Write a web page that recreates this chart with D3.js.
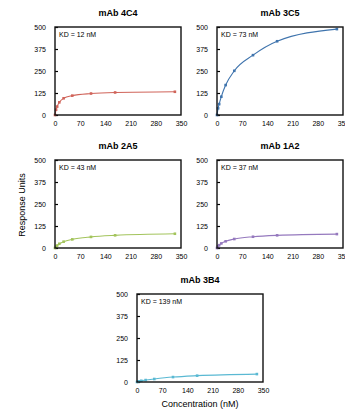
<!DOCTYPE html>
<html>
<head>
<meta charset="utf-8">
<script src="https://cdn.jsdelivr.net/npm/d3@7"></script>
<style>
  body { margin: 0; background: #fff; }
  svg { display: block; font-family: "Liberation Sans", Arial, sans-serif; }
</style>
</head>
<body>
<div id="chart"></div>
<script>
// concentrations (nM) shared by all antibodies
const concentrations = [0, 3, 6, 12, 24, 48, 100, 167, 333];

const titles = ['mAb 4C4', 'mAb 3C5', 'mAb 2A5', 'mAb 1A2', 'mAb 3B4'];
const kdLabels = ['KD = 12 nM', 'KD = 73 nM', 'KD = 43 nM', 'KD = 37 nM', 'KD = 139 nM'];
const colors = ['#d0645a', '#3f74ad', '#a3c45c', '#9579be', '#5ab9d3'];

// response units
const ru4C4 = [0, 30, 48, 72, 95, 110, 122, 128, 132];
const ru3C5 = [0, 38, 62, 104, 170, 251, 340, 419, 488];
const ru2A5 = [0, 8, 14, 24, 36, 49, 63, 72, 81];
const ru1A2 = [0, 10, 16, 26, 38, 51, 64, 72, 79];
const ru3B4 = [0, 2, 4, 7, 11, 17, 28, 36, 45];
const series = [ru4C4, ru3C5, ru2A5, ru1A2, ru3B4];

const xTicks = [0, 70, 140, 210, 280, 350];
const yTicks = [0, 125, 250, 375, 500];

const W = 345, H = 413;
const pw = 126, ph = 88;
// top-left corners of the plot areas
const panels = [
    { x: 55, y: 27 },
    { x: 217, y: 27 },
    { x: 55, y: 160 },
    { x: 217, y: 160 },
    { x: 137, y: 294 }
];

const svg = d3.select('#chart').append('svg')
    .attr('width', W)
    .attr('height', H);

const x = d3.scaleLinear().domain([0, 350]).range([0, pw]);
const y = d3.scaleLinear().domain([0, 500]).range([ph, 0]);

panels.forEach((p, i) => {
    const g = svg.append('g').attr('transform', `translate(${p.x},${p.y})`);

    g.append('text')
        .attr('x', pw / 2)
        .attr('y', -11)
        .attr('text-anchor', 'middle')
        .attr('font-size', 9)
        .attr('font-weight', 'bold')
        .text(titles[i]);

    // y axis: inside ticks, labels to the left
    const yAxis = g.append('g').call(d3.axisLeft(y).tickValues(yTicks).tickSize(-3).tickPadding(9));
    yAxis.select('.domain').remove();
    yAxis.selectAll('line').attr('stroke', '#000').attr('stroke-width', 1.2);
    yAxis.selectAll('text').attr('font-size', 7).attr('font-family', null).attr('fill', '#000');

    const xAxis = g.append('g')
        .attr('transform', `translate(0,${ph})`)
        .call(d3.axisBottom(x).tickValues(xTicks).tickSize(0).tickPadding(6));
    xAxis.select('.domain').remove();
    xAxis.selectAll('text').attr('font-size', 7).attr('font-family', null).attr('fill', '#000');

    const data = concentrations.map((c, k) => ({ c, v: series[i][k] }));

    g.append('path')
        .datum(data)
        .attr('fill', 'none')
        .attr('stroke', colors[i])
        .attr('stroke-width', 1.1)
        .attr('d', d3.line().x(d => x(d.c)).y(d => y(d.v)).curve(d3.curveMonotoneX));

    g.selectAll('.pt')
        .data(data)
        .enter().append('rect')
        .attr('x', d => x(d.c) - 1.3)
        .attr('y', d => y(d.v) - 1.3)
        .attr('width', 2.6)
        .attr('height', 2.6)
        .attr('fill', colors[i]);

    g.append('rect')
        .attr('width', pw)
        .attr('height', ph)
        .attr('fill', 'none')
        .attr('stroke', '#111')
        .attr('stroke-width', 1.4);

    g.append('text')
        .attr('x', 4)
        .attr('y', 10)
        .attr('font-size', 7)
        .text(kdLabels[i]);
});

svg.append('text')
    .attr('transform', 'translate(25,205) rotate(-90)')
    .attr('text-anchor', 'middle')
    .attr('font-size', 9)
    .text('Response Units');

svg.append('text')
    .attr('x', 200)
    .attr('y', 407)
    .attr('text-anchor', 'middle')
    .attr('font-size', 9)
    .text('Concentration (nM)');
</script>
</body>
</html>
